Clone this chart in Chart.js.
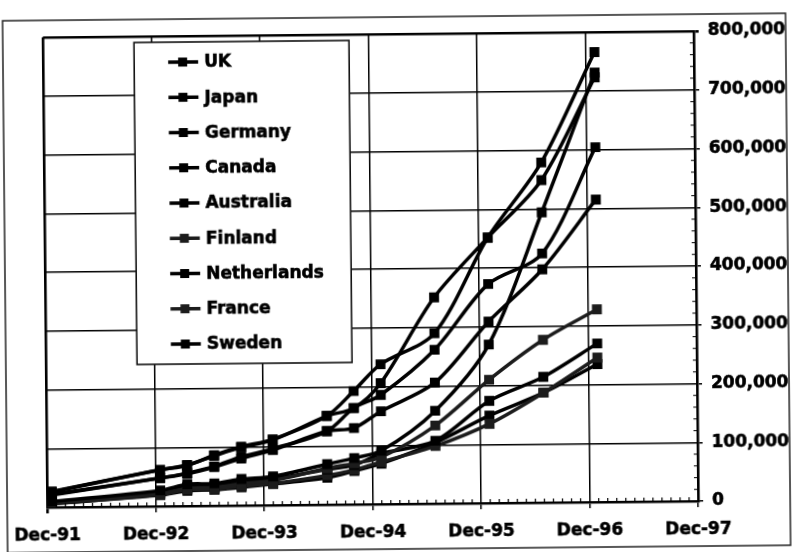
<!DOCTYPE html>
<html>
<head>
<meta charset="utf-8">
<script src="https://cdn.jsdelivr.net/npm/chart.js@4.4.1/dist/chart.umd.min.js"></script>
<style>
  html, body { margin: 0; padding: 0; background: #fff; }
  #wrap { position: relative; width: 797px; height: 552px; transform: rotate(-0.55deg); transform-origin: 398px 276px; }
  canvas { display: block; }
</style>
</head>
<body>
<div id="wrap"><canvas id="hosts" width="797" height="552"></canvas></div>
<script>
// Survey dates, in months after Dec-91
const surveyMonths = [0.5, 12.5, 15.5, 18.5, 21.5, 25, 31, 34, 37, 43, 49, 55, 61];

// Axis labels
const yearLabels = ['Dec-91', 'Dec-92', 'Dec-93', 'Dec-94', 'Dec-95', 'Dec-96', 'Dec-97'];

// Internet hosts per country, thousands
const ukHosts          = [26, 62, 69, 86, 100, 112, 151, 193, 238, 290, 452, 579, 766];
const japanHosts       = [10, 27, 37, 38, 45, 49, 69, 79, 91, 158, 270, 494, 731];
const germanyHosts     = [27, 62, 70, 85, 99, 111, 151, 164, 206, 351, 452, 549, 723];
const canadaHosts      = [22, 48, 56, 67, 83, 96, 125, 164, 186, 262, 373, 424, 604];
const australiaHosts   = [21, 48, 55, 66, 80, 94, 125, 130, 158, 206, 309, 397, 515];
const finlandHosts     = [7, 22, 30, 31, 37, 42, 62, 70, 80, 133, 210, 277, 328];
const netherlandsHosts = [8, 24, 33, 34, 40, 45, 60, 67, 86, 107, 174, 214, 270];
const franceHosts      = [6, 20, 28, 28, 33, 37, 50, 59, 72, 98, 135, 187, 246];
const swedenHosts      = [6, 19, 26, 27, 31, 36, 46, 57, 69, 104, 149, 187, 235];

const countries = ['UK', 'Japan', 'Germany', 'Canada', 'Australia', 'Finland', 'Netherlands', 'France', 'Sweden'];
const countrySeries = [ukHosts, japanHosts, germanyHosts, canadaHosts, australiaHosts,
                       finlandHosts, netherlandsHosts, franceHosts, swedenHosts];
const lineColors = ['#000', '#000', '#000', '#000', '#000', '#1c1c1c', '#000', '#1c1c1c', '#000'];

const FONT = '"DejaVu Sans", "Liberation Sans", Arial, sans-serif';

const datasets = countries.map((name, i) => ({
  label: name,
  data: countrySeries[i].map((v, j) => ({ x: surveyMonths[j], y: v * 1000 })),
  borderColor: lineColors[i],
  backgroundColor: lineColors[i],
  borderWidth: 3.5,
  pointStyle: 'rect',
  pointRadius: 7,
  pointBorderWidth: 0,
  tension: 0.3,
  fill: false
}));

// Outer frame around the whole figure
const outerFrame = {
  id: 'outerFrame',
  beforeDraw(chart) {
    const ctx = chart.ctx;
    ctx.save();
    ctx.strokeStyle = '#222';
    ctx.lineWidth = 1.5;
    ctx.strokeRect(5, 17, 783, 532);
    ctx.restore();
  }
};

// Small minor tick marks along both axes: one per month, one per 20,000
const minorTicks = {
  id: 'minorTicks',
  afterDatasetsDraw(chart) {
    const { ctx, chartArea } = chart;
    const xs = chart.scales.x, ys = chart.scales.y;
    ctx.save();
    ctx.strokeStyle = '#000';
    ctx.lineWidth = 1.2;
    ctx.beginPath();
    for (let m = xs.min; m <= xs.max; m++) {
      if (m % 12 === 0) continue;
      const px = xs.getPixelForValue(m);
      ctx.moveTo(px, chartArea.bottom);
      ctx.lineTo(px, chartArea.bottom - 4);
    }
    for (let v = ys.min; v <= ys.max; v += 20000) {
      if (v % 100000 === 0) continue;
      const py = ys.getPixelForValue(v);
      ctx.moveTo(chartArea.right, py);
      ctx.lineTo(chartArea.right - 4, py);
    }
    ctx.stroke();
    ctx.restore();
  }
};

// Boxed legend drawn inside the plot, over the lines
const boxLegend = {
  id: 'boxLegend',
  afterDatasetsDraw(chart) {
    const ctx = chart.ctx;
    const { left, top } = chart.chartArea;
    const bx = left + 91, by = top + 6, bw = 215, bh = 322;
    ctx.save();
    ctx.fillStyle = '#fff';
    ctx.fillRect(bx, by, bw, bh);
    ctx.lineWidth = 1.6;
    ctx.strokeStyle = '#111';
    ctx.strokeRect(bx, by, bw, bh);
    ctx.font = 'bold 17px ' + FONT;
    ctx.textBaseline = 'middle';
    ctx.textAlign = 'left';
    chart.data.datasets.forEach((ds, i) => {
      const y = by + 20 + i * 35.25;
      ctx.strokeStyle = ds.borderColor;
      ctx.lineWidth = 3.5;
      ctx.beginPath();
      ctx.moveTo(bx + 34, y);
      ctx.lineTo(bx + 64, y);
      ctx.stroke();
      ctx.fillStyle = ds.borderColor;
      ctx.fillRect(bx + 44, y - 4.5, 9, 9);
      ctx.fillStyle = '#000';
      ctx.strokeStyle = '#000';
      ctx.lineWidth = 0.6;
      ctx.fillText(ds.label, bx + 70, y + 1);
      ctx.strokeText(ds.label, bx + 70, y + 1);
    });
    ctx.restore();
  }
};

new Chart(document.getElementById('hosts'), {
  type: 'line',
  data: { datasets },
  plugins: [outerFrame, minorTicks, boxLegend],
  options: {
    responsive: false,
    animation: false,
    devicePixelRatio: 1,
    layout: { padding: { left: 42, top: 34, right: 0, bottom: 0 } },
    plugins: { legend: { display: false }, tooltip: { enabled: false } },
    scales: {
      x: {
        type: 'linear',
        position: 'bottom',
        min: 0,
        max: 72,
        afterFit(scale) { scale.height = 48; },
        afterBuildTicks(scale) {
          scale.ticks = yearLabels.map((_, i) => ({ value: i * 12 }));
        },
        ticks: {
          autoSkip: false,
          maxRotation: 0,
          padding: 12,
          color: '#000',
          textStrokeColor: '#000',
          textStrokeWidth: 0.6,
          font: { family: FONT, weight: 'bold', size: 17 },
          callback: (v) => yearLabels[Math.round(v / 12)]
        },
        grid: {
          color: '#000',
          lineWidth: (c) => (c.index === 0 ? 2.6 : 1.5),
          tickLength: 6,
          tickColor: '#000'
        },
        border: { display: true, color: '#000', width: 2.6 }
      },
      y: {
        position: 'right',
        min: 0,
        max: 800000,
        afterFit(scale) { scale.width = 101; },
        ticks: {
          stepSize: 100000,
          padding: 9,
          color: '#000',
          textStrokeColor: '#000',
          textStrokeWidth: 0.6,
          font: { family: FONT, weight: 'bold', size: 17 },
          callback: (v) => v.toLocaleString('en-US')
        },
        grid: {
          color: '#000',
          lineWidth: (c) => (c.tick && c.tick.value === 800000 ? 2.6 : 1.5),
          tickLength: 5,
          tickColor: '#000'
        },
        border: { display: true, color: '#000', width: 2.6 }
      }
    }
  }
});
</script>
</body>
</html>
